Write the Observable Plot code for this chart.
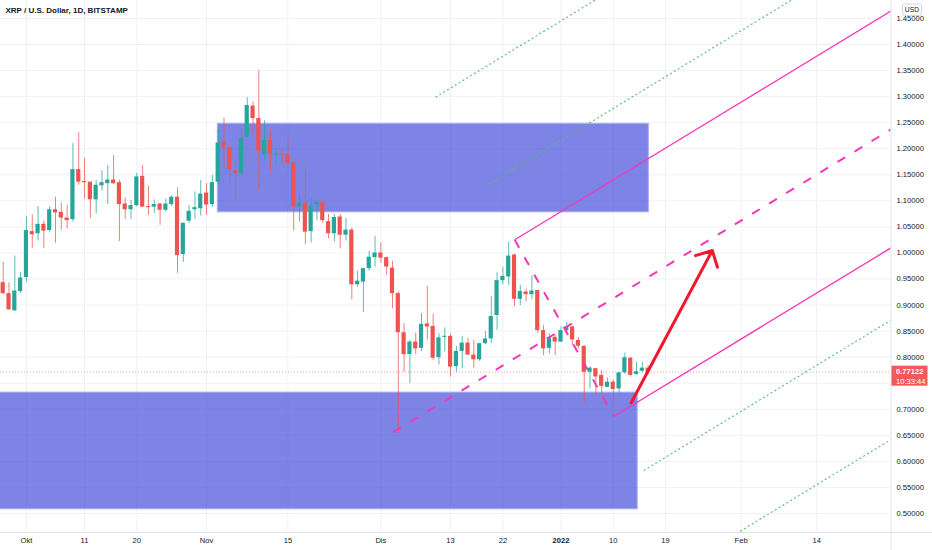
<!DOCTYPE html>
<html>
<head>
<meta charset="utf-8">
<script src="https://cdn.jsdelivr.net/npm/d3@7"></script>
<script src="https://cdn.jsdelivr.net/npm/@observablehq/plot@0.6"></script>
<style>
  body { margin: 0; background: #ffffff; }
  #chart { width: 932px; height: 550px; overflow: hidden; }
</style>
</head>
<body>
<div id="chart"></div>
<script>
// ---------- DATA ----------
const title = "XRP / U.S. Dollar, 1D, BITSTAMP";
const firstCandle = "2021-09-27";
const opens = [0.943,0.922,0.889,0.926,0.953,1.041,1.037,1.055,1.043,1.083,1.078,1.067,1.064,1.160,1.137,1.136,1.102,1.129,1.133,1.140,
  1.135,1.094,1.083,1.091,1.147,1.089,1.088,1.094,1.082,1.093,1.107,0.997,1.061,1.083,1.085,1.115,1.093,1.136,1.213,1.202,
  1.158,1.152,1.222,1.282,1.258,1.188,1.216,1.188,1.190,1.189,1.173,1.089,1.096,1.041,1.093,1.097,1.060,1.037,1.069,1.034,
  1.044,0.939,0.944,0.970,0.991,1.000,0.991,0.971,0.922,0.847,0.805,0.829,0.817,0.864,0.859,0.799,0.838,0.840,0.782,0.811,
  0.827,0.804,0.795,0.826,0.835,0.880,0.947,0.954,0.996,0.911,0.925,0.920,0.928,0.851,0.817,0.838,0.829,0.851,0.858,0.832,
  0.821,0.771,0.778,0.765,0.742,0.752,0.739,0.770,0.798,0.767,0.773,0.779];
const highs = [0.982,0.943,0.994,0.963,1.069,1.073,1.089,1.062,1.089,1.107,1.096,1.092,1.210,1.231,1.182,1.136,1.139,1.158,1.168,1.187,
  1.140,1.106,1.101,1.153,1.168,1.128,1.102,1.094,1.104,1.110,1.125,1.057,1.091,1.117,1.139,1.133,1.149,1.237,1.259,1.202,
  1.177,1.238,1.298,1.290,1.350,1.254,1.235,1.200,1.198,1.221,1.173,1.113,1.163,1.105,1.101,1.097,1.074,1.074,1.074,1.066,
  1.048,0.965,0.970,1.003,1.032,1.019,0.992,0.984,0.925,0.864,0.832,0.846,0.884,0.936,0.883,0.845,0.856,0.845,0.821,0.840,
  0.836,0.832,0.826,0.849,0.916,0.962,0.973,1.021,0.998,0.938,0.931,0.956,0.928,0.861,0.845,0.842,0.858,0.867,0.859,0.838,
  0.821,0.781,0.778,0.774,0.760,0.756,0.771,0.808,0.800,0.790,0.790,0.784];
const lows = [0.920,0.890,0.888,0.922,0.944,1.009,1.023,1.008,1.040,1.019,1.044,1.046,1.059,1.130,1.103,1.066,1.075,1.119,1.093,1.131,
  1.022,1.064,1.064,1.088,1.088,1.072,1.076,1.053,1.078,1.089,0.961,0.982,1.056,1.064,1.071,1.072,1.088,1.133,1.165,1.134,
  1.102,1.147,1.221,1.227,1.121,1.177,1.155,1.169,1.170,1.168,1.042,1.059,1.016,1.019,1.062,1.057,1.027,1.021,1.008,1.023,
  0.910,0.934,0.886,0.965,0.973,0.980,0.957,0.893,0.653,0.771,0.749,0.805,0.811,0.833,0.794,0.785,0.810,0.762,0.771,0.778,
  0.803,0.778,0.792,0.824,0.826,0.852,0.939,0.938,0.897,0.899,0.906,0.910,0.846,0.803,0.806,0.803,0.829,0.844,0.822,0.816,
  0.712,0.739,0.725,0.726,0.742,0.700,0.731,0.767,0.762,0.765,0.771,0.767];
const closes = [0.922,0.891,0.927,0.952,1.043,1.035,1.055,1.042,1.083,1.077,1.067,1.062,1.160,1.136,1.135,1.102,1.130,1.135,1.140,1.133,
  1.093,1.083,1.091,1.146,1.088,1.087,1.093,1.082,1.094,1.107,0.995,1.057,1.080,1.087,1.113,1.092,1.135,1.211,1.202,1.160,
  1.152,1.220,1.283,1.258,1.195,1.216,1.189,1.190,1.188,1.172,1.088,1.096,1.040,1.090,1.097,1.062,1.037,1.068,1.034,1.044,
  0.939,0.946,0.970,0.992,1.000,0.990,0.973,0.922,0.847,0.805,0.829,0.816,0.863,0.858,0.798,0.837,0.840,0.781,0.811,0.827,
  0.804,0.795,0.826,0.835,0.878,0.947,0.955,0.994,0.911,0.926,0.920,0.927,0.851,0.816,0.838,0.829,0.851,0.858,0.833,0.821,
  0.771,0.779,0.762,0.744,0.752,0.738,0.770,0.799,0.765,0.772,0.779,0.77122];

const lastPrice = 0.77122;
const countdown = "10:33:44";

const xDomain = ["2021-09-26T12:50Z", "2022-02-26T19:12Z"];
const yDomain = [0.4635, 1.4846];
const yGrid = [0.50,0.55,0.60,0.65,0.70,0.75,0.80,0.85,0.90,0.95,1.00,1.05,1.10,1.15,1.20,1.25,1.30,1.35,1.40,1.45];
// 0.75000 is hidden behind the last-price badge in the reference
const yTickLabels = [0.50,0.55,0.60,0.65,0.70,0.80,0.85,0.90,0.95,1.00,1.05,1.10,1.15,1.20,1.25,1.30,1.35,1.40,1.45];
const xTickDates = ["2021-10-01","2021-10-11","2021-10-20","2021-11-01","2021-11-15","2021-12-01","2021-12-13","2021-12-22",
  "2022-01-01","2022-01-10","2022-01-19","2022-02-01","2022-02-14"];
const xTickLabels = ["Okt","11","20","Nov","15","Dis","13","22","2022","10","19","Feb","14"];

// supply / demand zones
const zoneStart  = ["2021-11-02T22:30Z", "2021-09-20T00:00Z"];
const zoneEnd    = ["2022-01-16T03:00Z", "2022-01-14T05:00Z"];
const zoneTop    = [1.248, 0.732];
const zoneBottom = [1.078, 0.508];

// Andrews pitchfork: handle, upper pivot, lower pivot
const forkDates  = ["2021-12-03T03:00Z", "2021-12-24T01:00Z", "2022-01-10T02:00Z"];
const forkPrices = [0.6560, 1.0253, 0.6861];

// extra parallel (warning) lines: start points
const warnDates  = ["2021-12-10T10:00Z", "2021-12-19T00:15Z", "2022-01-15T06:00Z", "2022-01-23T22:00Z"];
const warnPrices = [1.2990, 1.1282, 0.5825, 0.4120];

// projection arrow
const arrowDates  = ["2022-01-13T02:00Z", "2022-01-27T01:00Z"];
const arrowPrices = [0.7124, 1.0048];

// ---------- BUILD ----------
const UP = "#26a69a", DOWN = "#ef5350", PINK = "#f936b6", GREEN = "#55bd70";
const DAY = 864e5;
const start = new Date(firstCandle);
const candles = opens.map((o, i) => ({
  date: d3.utcDay.offset(start, i), o, h: highs[i], l: lows[i], c: closes[i]
}));
const zones = zoneStart.map((s, i) => ({x1: new Date(s), x2: new Date(zoneEnd[i]), y1: zoneBottom[i], y2: zoneTop[i]}));

const P = forkDates.map((d, i) => ({t: +new Date(d), p: forkPrices[i]}));
const mid = {t: (P[1].t + P[2].t) / 2, p: (P[1].p + P[2].p) / 2};
const slope = (mid.p - P[0].p) / (mid.t - P[0].t);
const tEnd = +new Date(xDomain[1]) + 20 * DAY;
const ext = (pt) => ({x1: new Date(pt.t), y1: pt.p, x2: new Date(tEnd), y2: pt.p + slope * (tEnd - pt.t)});
const median = [ext(P[0])];
const tines = [ext(P[1]), ext(P[2])];
const connector = [{x1: new Date(P[1].t), y1: P[1].p, x2: new Date(P[2].t), y2: P[2].p}];
const warnLines = warnDates.map((d, i) => ext({t: +new Date(d), p: warnPrices[i]}));
const arrow = [{x1: new Date(arrowDates[0]), y1: arrowPrices[0], x2: new Date(arrowDates[1]), y2: arrowPrices[1]}];

const tickMap = new Map(xTickDates.map((d, i) => [+new Date(d), xTickLabels[i]]));
const xTicks = xTickDates.map(d => new Date(d));
const col = d => d.c >= d.o ? UP : DOWN;

const plot = Plot.plot({
  width: 932,
  height: 550,
  marginLeft: 0,
  marginRight: 41.5,
  marginTop: 0,
  marginBottom: 18,
  style: {fontFamily: "'Liberation Sans', Arial, sans-serif", fontSize: "7.6px", color: "#131722", background: "#ffffff", overflow: "hidden"},
  x: {type: "utc", domain: xDomain.map(d => new Date(d))},
  y: {domain: yDomain},
  marks: [
    Plot.gridX(xTicks, {stroke: "#eff1f6", strokeOpacity: 1}),
    Plot.gridY(yGrid, {stroke: "#eff1f6", strokeOpacity: 1}),
    Plot.rect(zones, {x1: "x1", x2: "x2", y1: "y1", y2: "y2", fill: "#3a45d8", fillOpacity: 0.66, stroke: "#aab1f2", strokeWidth: 1, clip: true}),
    Plot.ruleY([lastPrice], {stroke: DOWN, strokeOpacity: 0.55, strokeDasharray: "1,2"}),
    Plot.ruleX(candles, {x: "date", y1: "l", y2: "h", stroke: col, strokeOpacity: 0.75}),
    Plot.rect(candles, {
      x1: d => new Date(+d.date - 0.36 * DAY), x2: d => new Date(+d.date + 0.36 * DAY),
      y1: "o", y2: "c", fill: col
    }),
    Plot.link(warnLines, {x1: "x1", y1: "y1", x2: "x2", y2: "y2", stroke: GREEN, strokeWidth: 1.1, strokeDasharray: "2,2.5", clip: true}),
    Plot.link(tines, {x1: "x1", y1: "y1", x2: "x2", y2: "y2", stroke: PINK, strokeWidth: 1.3, clip: true}),
    Plot.link(median, {x1: "x1", y1: "y1", x2: "x2", y2: "y2", stroke: PINK, strokeWidth: 2, strokeDasharray: "9,11", clip: true}),
    Plot.link(connector, {x1: "x1", y1: "y1", x2: "x2", y2: "y2", stroke: PINK, strokeWidth: 2, strokeDasharray: "9,11", clip: true}),
    Plot.arrow(arrow, {x1: "x1", y1: "y1", x2: "x2", y2: "y2", stroke: "#f2172d", strokeWidth: 3, headAngle: 90, headLength: 8.8}),
    Plot.axisX(xTicks, {tickSize: 0, tickPadding: 5, tickFormat: d => tickMap.get(+d), fill: "#131722"}),
    Plot.axisY(yTickLabels, {anchor: "right", tickSize: 0, tickPadding: 5.5, tickFormat: d3.format(".5f"), fill: "#131722"}),
    Plot.text([title], {frameAnchor: "top-left", dx: 5, dy: 6.5, fontSize: 8, fontWeight: 600, fill: "#131722", textAnchor: "start"})
  ]
});

document.getElementById("chart").appendChild(plot);

// ---------- decorations tied to scales ----------
const svg = d3.select(plot);
const xR = plot.scale("x").range;
const yR = plot.scale("y").range;
const right = Math.max(...xR);
const bottom = Math.max(...yR);

svg.selectAll("text").filter(function() { return d3.select(this).text() === "2022"; }).attr("font-weight", "bold");

const deco = svg.append("g").attr("text-anchor", "start");
deco.append("line").attr("x1", right + 0.5).attr("x2", right + 0.5).attr("y1", 0).attr("y2", 550)
  .attr("stroke", "#e0e3eb").attr("stroke-width", 1);
deco.append("line").attr("x1", 0).attr("x2", 932).attr("y1", bottom + 0.5).attr("y2", bottom + 0.5)
  .attr("stroke", "#e0e3eb").attr("stroke-width", 1);

// USD badge
deco.append("rect").attr("x", right + 12).attr("y", 4).attr("width", 19).attr("height", 11.5).attr("rx", 2)
  .attr("fill", "#ffffff").attr("stroke", "#c9ccd4").attr("stroke-width", 0.8);
deco.append("text").attr("x", right + 21.5).attr("y", 10).attr("dy", "0.35em").attr("text-anchor", "middle")
  .attr("font-size", 6.8).attr("fill", "#131722").text("USD");

// last price label
const yp = plot.scale("y").apply(lastPrice);
deco.append("rect").attr("x", right + 1).attr("y", yp - 6).attr("width", 36).attr("height", 20)
  .attr("fill", "#f05a5a");
deco.append("text").attr("x", right + 5.5).attr("y", yp).attr("dy", "0.35em").attr("text-anchor", "start")
  .attr("font-size", 7.6).attr("font-weight", "bold").attr("fill", "#ffffff").text(d3.format(".5f")(lastPrice));
deco.append("text").attr("x", right + 5.5).attr("y", yp + 9.5).attr("dy", "0.35em").attr("text-anchor", "start")
  .attr("font-size", 7.6).attr("fill", "#ffffff").text(countdown);
</script>
</body>
</html>
